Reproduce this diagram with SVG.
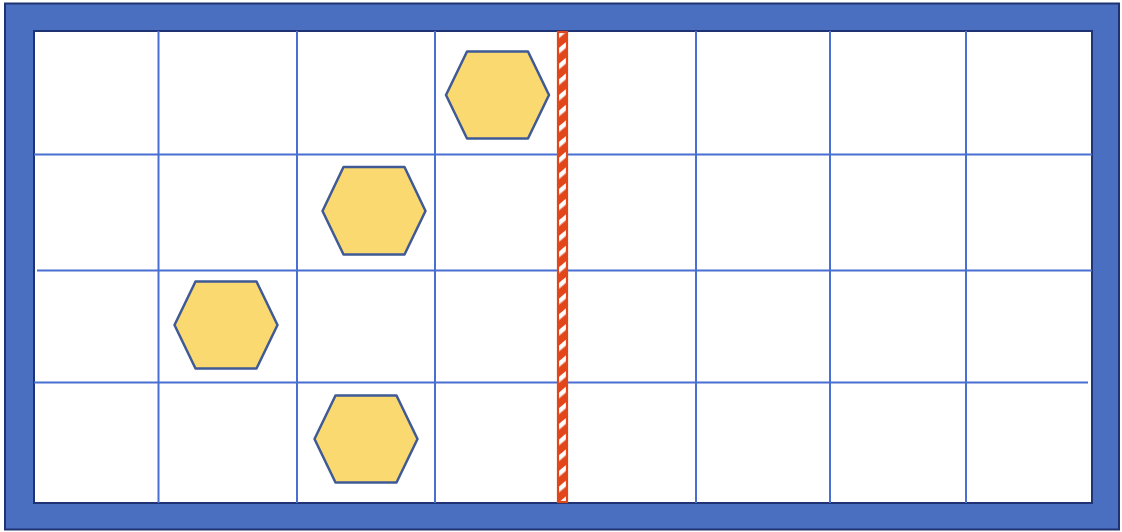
<svg xmlns="http://www.w3.org/2000/svg" width="1122" height="532" viewBox="0 0 1122 532">
  <style>
    .grid { stroke: #4a6fd2; stroke-width: 2; fill: none; }
    .hex { fill: #f9d970; stroke: #3f5a95; stroke-width: 2.5; stroke-linejoin: round; }
  </style>
  <defs>
    <pattern id="stripes" patternUnits="userSpaceOnUse" width="10" height="12" patternTransform="rotate(-40)">
      <rect width="10" height="12" fill="#e2471c"/>
      <rect x="0" y="0" width="10" height="4.5" fill="#ffffff"/>
    </pattern>
  </defs>
  <rect width="1122" height="532" fill="#ffffff"/>
  <g id="frame">
    <rect x="5" y="3.5" width="1114" height="526" fill="#4a6fc0" stroke="#1f3273" stroke-width="2"/>
    <rect x="34" y="31" width="1058" height="472" fill="#ffffff" stroke="#1f3273" stroke-width="2"/>
  </g>
  <g id="grid">
    <line class="grid" x1="158.5" y1="31" x2="158.5" y2="503"/>
    <line class="grid" x1="297" y1="31" x2="297" y2="503"/>
    <line class="grid" x1="435" y1="31" x2="435" y2="503"/>
    <line class="grid" x1="696" y1="31" x2="696" y2="503"/>
    <line class="grid" x1="830" y1="31" x2="830" y2="503"/>
    <line class="grid" x1="966" y1="31" x2="966" y2="503"/>
    <line class="grid" x1="34" y1="154.5" x2="1092" y2="154.5"/>
    <line class="grid" x1="37" y1="270.5" x2="1092" y2="270.5"/>
    <line class="grid" x1="34" y1="382.5" x2="1088" y2="382.5"/>
  </g>
  <g id="barrier">
    <rect x="558" y="32" width="9" height="470" fill="url(#stripes)" stroke="#e2471c" stroke-width="2.2"/>
  </g>
  <g id="hex1">
    <polygon class="hex" points="446,95 467,51.5 528,51.5 549,95 528,138.5 467,138.5"/>
  </g>
  <g id="hex2">
    <polygon class="hex" points="322.5,211 343.5,167 404.5,167 425.5,211 404.5,254.5 343.5,254.5"/>
  </g>
  <g id="hex3">
    <polygon class="hex" points="174.5,325 195.5,281.5 256.5,281.5 277.5,325 256.5,368.5 195.5,368.5"/>
  </g>
  <g id="hex4">
    <polygon class="hex" points="314.5,439 335.5,395.5 396.5,395.5 417.5,439 396.5,482.5 335.5,482.5"/>
  </g>
</svg>
